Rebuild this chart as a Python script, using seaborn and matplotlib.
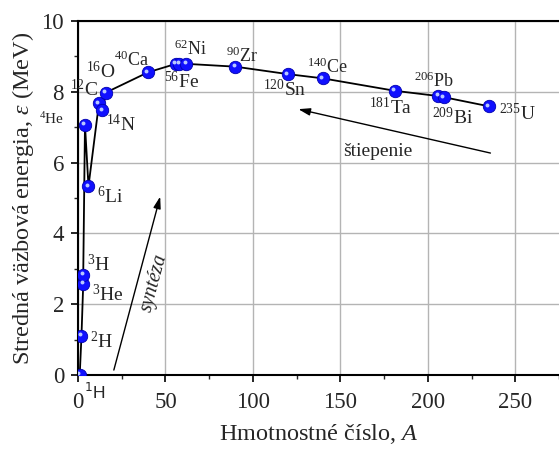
import matplotlib
matplotlib.use("Agg")
import matplotlib.pyplot as plt
import seaborn as sns
import pandas as pd
from matplotlib.transforms import offset_copy

# ---- data ----
mass_number = [1, 2, 3, 3, 4, 6, 12, 14, 16, 40, 56, 58, 62, 90, 120, 140, 181, 206, 209, 235]
binding_energy = [0.0, 1.11, 2.57, 2.83, 7.07, 5.33, 7.68, 7.48, 7.98, 8.55, 8.79, 8.79, 8.79,
                  8.71, 8.50, 8.38, 8.03, 7.88, 7.85, 7.59]

label_mass = ["2", "3", "3", "4", "6", "12", "16", "14", "40", "56", "62", "90", "120",
              "140", "181", "206", "209", "235"]
label_symbol = ["H", "He", "H", "He", "Li", "C", "O", "N", "Ca", "Fe", "Ni", "Zr", "Sn",
                "Ce", "Ta", "Pb", "Bi", "U"]
label_x = [6.8, 8.0, 5.1, -8.0, 10.8, 11.4, 4.5, 15.9, 20.5, 49.0, 55.1, 84.5, 105.7,
           130.7, 166.3, 192.0, 202.3, 240.9]
label_y = [0.76, 2.09, 2.94, 7.09, 4.86, 7.88, 8.38, 6.89, 8.73, 8.11, 9.04, 8.84, 7.88,
           8.52, 7.37, 8.14, 7.10, 7.20]
label_ha = ["left", "left", "left", "right", "left", "right", "left", "left", "left", "left",
            "left", "left", "left", "left", "left", "left", "left", "left"]
label_size = [14, 14, 14, 11, 14, 14, 14, 14, 13, 14, 13, 13, 14, 13, 14, 13, 14, 14]

x_ticks = [0, 50, 100, 150, 200, 250]
y_ticks = [0, 2, 4, 6, 8, 10]

df = pd.DataFrame({"A": mass_number, "E": binding_energy})

sns.set_style("ticks")
plt.rcParams["font.family"] = ["Liberation Serif", "DejaVu Serif"]
plt.rcParams["mathtext.fontset"] = "custom"
plt.rcParams["mathtext.rm"] = "Liberation Serif"
plt.rcParams["mathtext.it"] = "Liberation Serif:italic"

fig = plt.figure(figsize=(5.59, 4.49), dpi=100)
ax = fig.add_axes([0.1395, 0.1648, 0.8605, 0.7884])

ax.grid(True, color="#b4b4b4", linewidth=1.0)
ax.set_axisbelow(True)

sns.lineplot(data=df, x="A", y="E", sort=False, color="black", linewidth=1.3,
             ax=ax, zorder=3, estimator=None)
sns.scatterplot(data=df, x="A", y="E", s=80, color="#1010ff", edgecolor="#0000b0",
                linewidth=0.6, ax=ax, zorder=4)
hl = offset_copy(ax.transData, fig=fig, x=-1.6, y=1.6, units="dots")
ax.scatter(df["A"], df["E"], s=8, color="#b8c8ff", linewidth=0, zorder=5, transform=hl)

for m, s, x, y, ha, fs in zip(label_mass, label_symbol, label_x, label_y, label_ha, label_size):
    ax.text(x, y, f"$^{{{m}}}$" + s, ha=ha, va="baseline", fontsize=fs, clip_on=False)

ax.text(3.4, -0.68, "$^{1}$H", ha="left", va="baseline", fontsize=12.5,
        family="Liberation Sans", math_fontfamily="dejavusans", clip_on=False)

# arrows
ax.annotate("", xy=(47.0, 5.04), xytext=(20.5, 0.14),
            arrowprops=dict(arrowstyle="-|>,head_length=0.7,head_width=0.22",
                            color="black", lw=1.0, shrinkA=0, shrinkB=0))
ax.annotate("", xy=(126.0, 7.51), xytext=(235.8, 6.27),
            arrowprops=dict(arrowstyle="-|>,head_length=0.7,head_width=0.22",
                            color="black", lw=1.0, shrinkA=0, shrinkB=0))
ax.text(43.8, 2.6, "syntéza", rotation=75, ha="center", va="center",
        fontsize=14.5, style="italic")
ax.text(171.6, 6.3, "štiepenie", ha="center", va="center", fontsize=14)

ax.set_xlim(0, 273.3)
ax.set_ylim(0, 10)
ax.set_xticks(x_ticks)
ax.set_yticks(y_ticks)
ax.set_xticks([25, 75, 125, 175, 225, 275], minor=True)
ax.set_yticks([1, 3, 5, 7, 9], minor=True)
ax.tick_params(axis="both", which="major", direction="out", length=5, width=1.2,
               labelsize=16.5, color="black")
ax.tick_params(axis="x", which="major", pad=7)
ax.tick_params(axis="y", which="major", pad=5)
ax.tick_params(axis="both", which="minor", direction="out", length=3, width=1.0)

for side in ["left", "bottom", "top"]:
    ax.spines[side].set_linewidth(1.5)
    ax.spines[side].set_color("black")
ax.spines["right"].set_visible(False)

ax.set_xlabel("Hmotnostné číslo, $\\mathit{A}$", fontsize=17.5, labelpad=7)
ax.set_ylabel("Stredná väzbová energia, $\\mathit{\\varepsilon}$ (MeV)", fontsize=17.5,
              labelpad=4)

fig.savefig("out.png", dpi=100)
